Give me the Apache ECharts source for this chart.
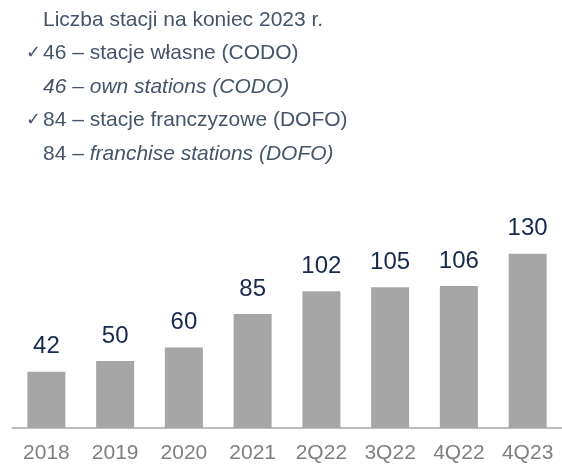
<!DOCTYPE html>
<html>
<head>
<meta charset="utf-8">
<script src="https://cdn.jsdelivr.net/npm/echarts@6/dist/echarts.min.js"></script>
<style>
  html, body { margin: 0; padding: 0; background: #fff; }
  #chart { width: 562px; height: 464px; }
</style>
</head>
<body>
<div id="chart"></div>
<script>
// data
const categories = ['2018', '2019', '2020', '2021', '2Q22', '3Q22', '4Q22', '4Q23'];
const stations = [42, 50, 60, 85, 102, 105, 106, 130];
const noteLines = [
  { check: false, text: 'Liczba stacji na koniec 2023 r.', style: 'n' },
  { check: true, text: '46 – stacje własne (CODO)', style: 'n' },
  { check: false, text: '46 – own stations (CODO)', style: 'i' },
  { check: true, text: '84 – stacje franczyzowe (DOFO)', style: 'n' },
  { check: false, pre: '84 – ', text: 'franchise stations (DOFO)', style: 'i' }
];

const textColor = '#44546a';
const font = 'Liberation Sans, Arial, sans-serif';

const noteText = noteLines.map(l => {
  const lead = l.check ? '{ck|✓}' : '{sp|}';
  const pre = l.pre ? '{n|' + l.pre + '}' : '';
  return lead + pre + '{' + l.style + '|' + l.text + '}';
}).join('\n');

const chart = echarts.init(document.getElementById('chart'));
chart.setOption({
  animation: false,
  title: {
    left: 26,
    top: 3,
    padding: 0,
    text: noteText,
    textStyle: {
      fontWeight: 'normal',
      rich: {
        ck: { fontFamily: 'DejaVu Sans', fontSize: 18, fontWeight: 'normal', color: textColor, width: 17, lineHeight: 33.5 },
        sp: { width: 17, lineHeight: 33.5 },
        n: { fontFamily: font, fontSize: 21, fontWeight: 'normal', color: textColor, lineHeight: 33.5 },
        i: { fontFamily: font, fontSize: 21, fontWeight: 'normal', fontStyle: 'italic', color: textColor, lineHeight: 33.5 }
      }
    }
  },
  grid: { left: 12, right: -4, top: 227, bottom: 34 },
  xAxis: {
    type: 'category',
    data: categories,
    axisLine: { lineStyle: { color: '#a6a6a6', width: 1.5 } },
    axisTick: { show: false },
    axisLabel: { color: '#7f7f7f', fontSize: 21, fontFamily: font, margin: 15 }
  },
  yAxis: {
    type: 'value',
    min: 0,
    max: 150,
    show: false,
    splitLine: { show: false }
  },
  series: [
    {
      type: 'bar',
      data: stations,
      barWidth: 38,
      itemStyle: { color: '#a6a6a6' },
      label: {
        show: true,
        position: 'top',
        distance: 13,
        color: '#17284f',
        fontSize: 24,
        fontFamily: font
      }
    }
  ]
});
</script>
</body>
</html>
